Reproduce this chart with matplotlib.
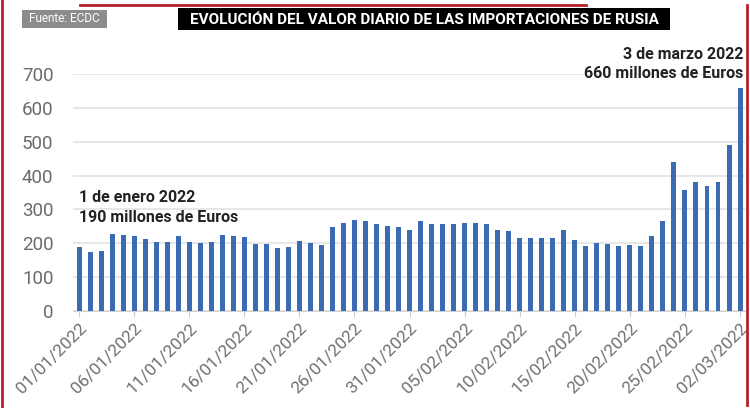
import matplotlib.pyplot as plt
from matplotlib.lines import Line2D
from matplotlib.patches import Rectangle
import datetime as dt

# datos (millones de euros por dia)
dias = [dt.date(2022, 1, 1) + dt.timedelta(days=i) for i in range(61)]
etiquetas = [d.strftime('%d/%m/%Y') for d in dias]
valores = [190, 175, 177, 226, 223, 221, 212, 204, 203, 220,
           203, 200, 204, 223, 220, 218, 198, 197, 185, 188,
           205, 201, 195, 248, 261, 268, 267, 258, 252, 249,
           239, 267, 257, 256, 256, 261, 261, 258, 238, 236,
           214, 214, 215, 215, 240, 209, 192, 200, 198, 193,
           196, 192, 221, 266, 440, 358, 380, 370, 381, 490,
           660]
yticks = [0, 100, 200, 300, 400, 500, 600, 700]

plt.rcParams['font.family'] = ['Roboto', 'DejaVu Sans']

fig = plt.figure(figsize=(7.5, 4.08), dpi=100)
ax = fig.add_axes([73 / 750, 1 - 310.7 / 408, 672 / 750, 236.4 / 408])

x = list(range(len(valores)))
ax.bar(x, valores, width=0.45, color='#3b6cb3', zorder=3)

ax.set_xlim(-0.55, len(valores) - 0.55)
ax.set_ylim(0, 700)
ax.set_yticks(yticks)
ax.grid(axis='y', color='#e3e3e3', linewidth=1.2, zorder=0)
ax.set_axisbelow(True)

# etiquetas cada 5 dias
pos = x[::5]
ax.set_xticks(pos)
ax.set_xticklabels([etiquetas[i] for i in pos], rotation=45, ha='right',
                   rotation_mode='anchor', color='#707070', fontsize=12.5)
ax.tick_params(axis='x', length=4, color='#d0d0d0', pad=3)
ax.tick_params(axis='y', length=0, labelcolor='#6b6b6b', labelsize=13.5, pad=14)
for s in ['top', 'right', 'left']:
    ax.spines[s].set_visible(False)
ax.spines['bottom'].set_color('#d0d0d0')

# anotaciones
ax.text(0, 255, '1 de enero 2022\n190 millones de Euros', fontsize=11.5,
        fontweight='bold', color='#222222', va='bottom', ha='left',
        linespacing=1.35)
ax.text(60.3, 680, '3 de marzo 2022\n660 millones de Euros', fontsize=11.5,
        fontweight='bold', color='#222222', va='bottom', ha='right',
        linespacing=1.35, clip_on=False)

# cabecera
fig.add_artist(Rectangle((22 / 750, 1 - 28 / 408), 85 / 750, 18 / 408,
                         transform=fig.transFigure, fc='#8c8c8c', ec='none'))
fig.text(64.5 / 750, 1 - 19 / 408, 'Fuente: ECDC', fontsize=8.5, color='white',
         ha='center', va='center')
fig.add_artist(Rectangle((178 / 750, 1 - 30 / 408), 492 / 750, 22 / 408,
                         transform=fig.transFigure, fc='black', ec='none'))
fig.text(424 / 750, 1 - 19.5 / 408,
         'EVOLUCIÓN DEL VALOR DIARIO DE LAS IMPORTACIONES DE RUSIA',
         fontsize=11, fontweight='bold', color='white', ha='center', va='center')

# bordes rojos del video
rojo = '#b3202a'
fig.add_artist(Line2D([1.5 / 750, 1.5 / 750], [0, 1], color=rojo, lw=2))
fig.add_artist(Line2D([747 / 750, 747 / 750], [3 / 408, 1 - 5 / 408], color=rojo, lw=2))
fig.add_artist(Line2D([80 / 750, 586 / 750], [1 - 5 / 408, 1 - 5 / 408], color=rojo, lw=2))

plt.savefig('out.png', dpi=100)
